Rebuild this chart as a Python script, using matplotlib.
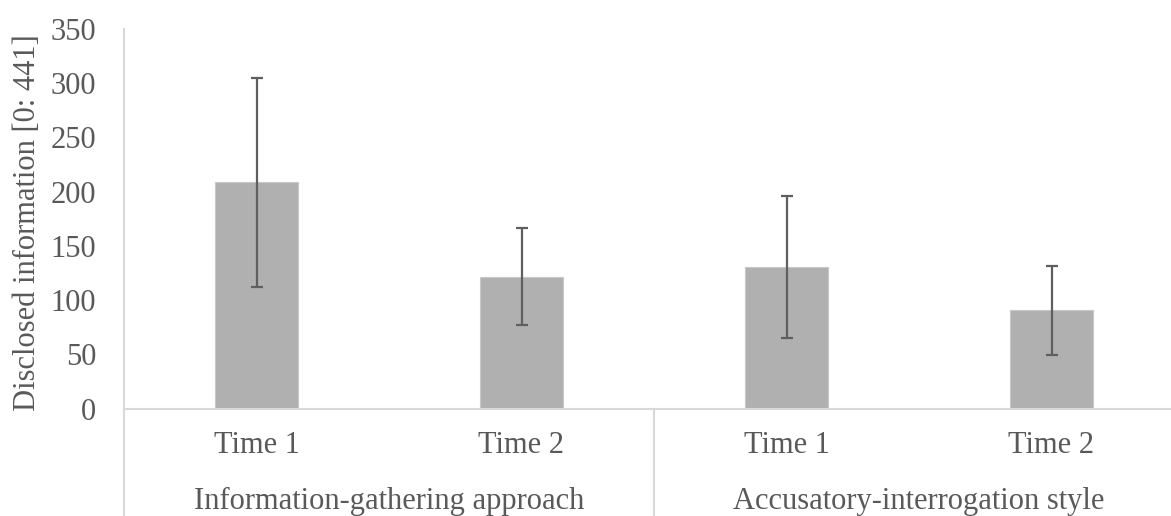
import matplotlib
matplotlib.use("Agg")
import matplotlib.pyplot as plt
from matplotlib.lines import Line2D
import matplotlib.transforms as mtransforms

# Data
categories = ["Time 1", "Time 2", "Time 1", "Time 2"]
groups = ["Information-gathering approach", "Accusatory-interrogation style"]
means = [208.5, 121.7, 130.4, 90.5]
errors = [96.5, 44.5, 65.5, 40.8]
yticks = [0, 50, 100, 150, 200, 250, 300, 350]
ylabel = "Disclosed information [0: 441]"

W, H = 1171, 516
fig = plt.figure(figsize=(W / 100, H / 100), dpi=100)
plt.rcParams['font.family'] = ['Liberation Serif', 'DejaVu Serif']

x0, x1 = 124, 1184
y0, y1 = 408.5, 29
ax = fig.add_axes([x0 / W, (H - y0) / H, (x1 - x0) / W, (y0 - y1) / H])

text_color = "#595959"
axis_color = "#D9D9D9"
fs = 22

xs = list(range(len(means)))
ax.bar(xs, means, width=0.313, color="#B0B0B0", edgecolor="#C8C8C8", linewidth=0.8, zorder=2)
ax.errorbar(xs, means, yerr=errors, fmt="none", ecolor="#5F5F5F", elinewidth=1.6,
            capsize=4.3, capthick=1.6, zorder=3)

ax.set_xlim(-0.5, 3.5)
ax.set_ylim(0, 350)
ax.set_yticks(yticks)
ax.set_yticklabels([str(t) for t in yticks], fontsize=fs, color=text_color)
ax.tick_params(axis="y", length=0, pad=20)
ax.set_xticks(xs)
ax.set_xticklabels(categories, fontsize=fs, color=text_color)
ax.tick_params(axis="x", length=0, pad=16)

for s in ["top", "right"]:
    ax.spines[s].set_visible(False)
ax.spines["left"].set_color(axis_color)
ax.spines["bottom"].set_color(axis_color)
ax.spines["left"].set_linewidth(1.5)
ax.spines["bottom"].set_linewidth(1.5)

ax.set_ylabel(ylabel, fontsize=fs, color=text_color)
ax.yaxis.set_label_coords(-(124 - 42) / (x1 - x0), 0.49)

# Multi-level category separators
trans = mtransforms.blended_transform_factory(ax.transData, fig.transFigure)
for xv in [-0.5, 1.5]:
    fig.add_artist(Line2D([xv, xv], [0, (H - y0) / H], transform=trans,
                          color=axis_color, linewidth=1.5))

for gi, g in enumerate(groups):
    ax.text(gi * 2 + 0.5, (H - 501) / H, g, transform=trans, ha="center", va="center",
            fontsize=fs, color=text_color)

fig.savefig("out.png", dpi=100)
